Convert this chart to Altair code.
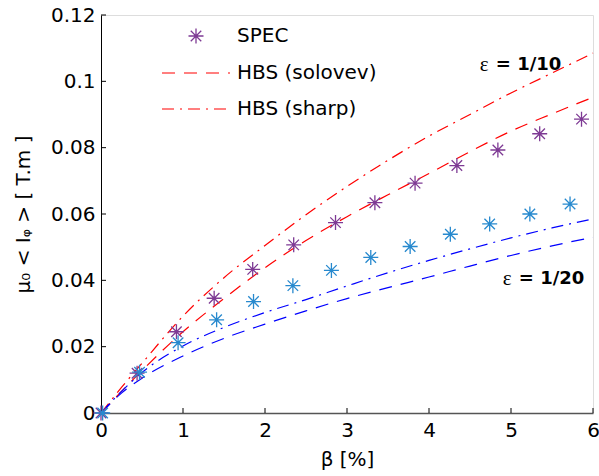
import altair as alt
import pandas as pd

# ---- data ----
beta_line = [0, 0.25, 0.5, 1.0, 1.5, 2.0, 2.5, 3.0, 3.5, 4.0, 4.5, 5.0, 5.5, 6.0]
solovev_10 = [0, 0.0065, 0.0128, 0.0245, 0.0345, 0.0438, 0.0520, 0.0592, 0.0658, 0.0722, 0.0788, 0.0850, 0.0902, 0.0952]
sharp_10 = [0, 0.0077, 0.0150, 0.0292, 0.0408, 0.0505, 0.0598, 0.0683, 0.0762, 0.0835, 0.0900, 0.0965, 0.1025, 0.1085]
solovev_20 = [0, 0.006, 0.0105, 0.0172, 0.0225, 0.0268, 0.0308, 0.0345, 0.0378, 0.0410, 0.0443, 0.0475, 0.0504, 0.0530]
sharp_20 = [0, 0.0065, 0.0122, 0.0202, 0.0258, 0.0303, 0.0342, 0.0383, 0.0423, 0.0460, 0.0495, 0.0528, 0.0558, 0.0585]

spec10_beta = [0, 0.44, 0.92, 1.38, 1.85, 2.35, 2.86, 3.34, 3.83, 4.34, 4.84, 5.35, 5.86]
spec10_I = [0, 0.0120, 0.0245, 0.0346, 0.0433, 0.0507, 0.0574, 0.0634, 0.0693, 0.0746, 0.0793, 0.0842, 0.0886]
spec20_beta = [0.02, 0.47, 0.94, 1.41, 1.86, 2.34, 2.81, 3.29, 3.77, 4.26, 4.74, 5.23, 5.72]
spec20_I = [0, 0.0123, 0.0212, 0.0281, 0.0336, 0.0384, 0.0430, 0.0469, 0.0502, 0.0539, 0.0570, 0.0600, 0.0630]

x_ticks = [0, 1, 2, 3, 4, 5, 6]
y_ticks = [0, 0.02, 0.04, 0.06, 0.08, 0.1, 0.12]

legend_labels = ["SPEC", "HBS (solovev)", "HBS (sharp)"]
eps_labels = ["= 1/10", "= 1/20"]
eps_beta = [4.62, 4.90]
eps_I = [0.105, 0.0404]

W, H = 492, 398
FONT = "DejaVu Sans"
RED, BLUE = "#ff0000", "#0000ff"
PURPLE, CYAN = "#7E3A94", "#2789CE"
DASH, DASHDOT = [13, 9], [12, 6, 2, 6]
STAR = "M-1,0L1,0M0,-1L0,1M-0.7,-0.7L0.7,0.7M-0.7,0.7L0.7,-0.7"

xs = alt.Scale(domain=[0, 6], nice=False, zero=False)
ys = alt.Scale(domain=[0, 0.12], nice=False, zero=False)

x_axis = alt.Axis(
    values=x_ticks, ticks=False, grid=False, title="β [%]", format="d",
    labelFontSize=20, labelFont=FONT, labelColor="black", labelPadding=7,
    titleFont=FONT, titleFontSize=20, titleFontWeight="normal", titleColor="black",
    titlePadding=9, domainColor="#555555", domainWidth=1.6, labelFlush=False)
y_axis = alt.Axis(
    values=y_ticks, ticks=False, grid=False, format=".2~f",
    title="μ₀ < Iᵩ >   [ T.m ]",
    labelFontSize=20, labelFont=FONT, labelColor="black", labelPadding=6,
    labelOverlap=False, labelBound=False,
    titleFont=FONT, titleFontSize=20, titleFontWeight="normal", titleColor="black",
    titlePadding=17, domainColor="black", domainWidth=1, labelFlush=False)


def X(field):
    return alt.X(field, scale=xs, axis=x_axis)


def Y(field):
    return alt.Y(field, scale=ys, axis=y_axis)


def line_layer(vals, color, dash):
    df = pd.DataFrame({"beta": beta_line, "I": vals})
    return alt.Chart(df).mark_line(strokeWidth=1.2, color=color, strokeDash=dash,
                                   interpolate="monotone").encode(x=X("beta:Q"), y=Y("I:Q"))


def point_layer(bx, iy, color):
    df = pd.DataFrame({"beta": bx, "I": iy})
    return alt.Chart(df).mark_point(shape=STAR, size=225, filled=False, strokeWidth=1.3,
                                    opacity=1, color=color).encode(x=X("beta:Q"), y=Y("I:Q"))


layers = [
    line_layer(solovev_10, RED, DASH),
    line_layer(sharp_10, RED, DASHDOT),
    line_layer(solovev_20, BLUE, DASH),
    line_layer(sharp_20, BLUE, DASHDOT),
    point_layer(spec10_beta, spec10_I, PURPLE),
    point_layer(spec20_beta, spec20_I, CYAN),
]

# inward ticks
layers.append(alt.Chart(pd.DataFrame({"t": x_ticks[1:]})).mark_rule(color="black", strokeWidth=1).encode(
    x=X("t:Q"), y=alt.value(H), y2=alt.value(H - 5)))
layers.append(alt.Chart(pd.DataFrame({"t": y_ticks[1:]})).mark_rule(color="black", strokeWidth=1).encode(
    y=Y("t:Q"), x=alt.value(0), x2=alt.value(5)))

# epsilon annotations
eps_df = pd.DataFrame({"beta": eps_beta, "I": eps_I, "lab": eps_labels})
layers.append(alt.Chart(eps_df).mark_text(text="ε", font="Liberation Serif", fontSize=21, align="left",
                                          baseline="middle", color="black").encode(
    x=X("beta:Q"), y=Y("I:Q")))
layers.append(alt.Chart(eps_df).mark_text(font=FONT, fontSize=18, fontWeight="bold", align="left",
                                          baseline="middle", dx=16, color="black").encode(
    x=X("beta:Q"), y=Y("I:Q"), text="lab:N"))

# manual legend (pixel positions inside the plot area)
leg_y = [21, 58, 94]
for lab, yy in zip(legend_labels, leg_y):
    layers.append(alt.Chart(pd.DataFrame({"lab": [lab]})).mark_text(
        font=FONT, fontSize=20, align="left", baseline="middle", color="black").encode(
        x=alt.value(136), y=alt.value(yy), text="lab:N"))
layers.append(alt.Chart(pd.DataFrame({"k": [0]})).mark_point(
    shape=STAR, size=225, filled=False, strokeWidth=1.3, color=PURPLE, opacity=1).encode(
    x=alt.value(95), y=alt.value(leg_y[0])))
layers.append(alt.Chart(pd.DataFrame({"k": [0]})).mark_rule(color=RED, strokeWidth=1.2, strokeDash=DASH).encode(
    x=alt.value(61), x2=alt.value(129), y=alt.value(leg_y[1])))
layers.append(alt.Chart(pd.DataFrame({"k": [0]})).mark_rule(color=RED, strokeWidth=1.2, strokeDash=DASHDOT).encode(
    x=alt.value(61), x2=alt.value(129), y=alt.value(leg_y[2])))

chart = alt.layer(*layers).properties(
    width=W, height=H,
    autosize=alt.AutoSizeParams(type="none"),
    padding={"left": 101, "top": 15, "right": 6, "bottom": 63},
).configure_view(stroke=None).configure(background="white")

chart.save("out.html", embed_options={"renderer": "svg", "actions": False})
